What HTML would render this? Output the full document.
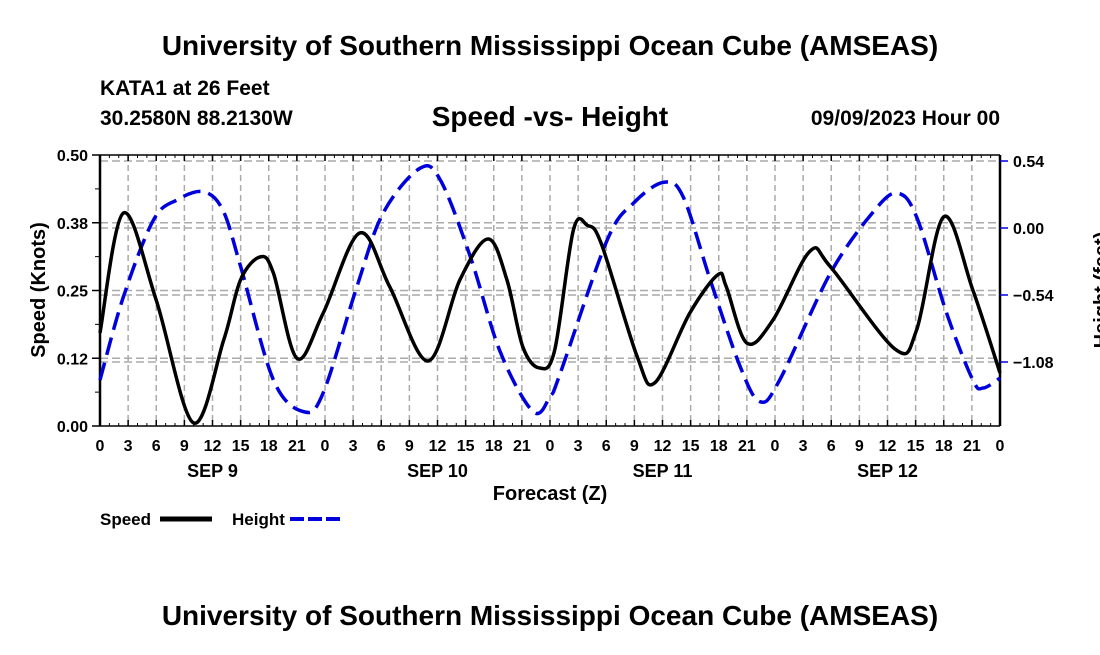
<!DOCTYPE html>
<html><head><meta charset="utf-8"><style>
body{margin:0;background:#fff;}
svg text{font-family:"Liberation Sans",sans-serif;font-weight:bold;fill:#000;}
</style></head><body>
<svg width="1100" height="650" viewBox="0 0 1100 650">
<text x="550" y="55" font-size="28" text-anchor="middle">University of Southern Mississippi Ocean Cube (AMSEAS)</text>
<text x="100" y="95" font-size="21">KATA1 at 26 Feet</text>
<text x="100" y="125" font-size="21">30.2580N  88.2130W</text>
<text x="550" y="126" font-size="28" text-anchor="middle">Speed -vs- Height</text>
<text x="1000" y="125" font-size="21" text-anchor="end">09/09/2023 Hour 00</text>
<g id="grid"></g>
<g id="axes"></g>
<g id="series"></g>
<text x="550" y="500" font-size="20" text-anchor="middle">Forecast (Z)</text>
<text transform="translate(45,290) rotate(-90)" font-size="20" text-anchor="middle">Speed (Knots)</text>
<text transform="translate(1108,290) rotate(-90)" font-size="20" text-anchor="middle">Height (feet)</text>
<g>
<text x="100" y="525" font-size="17">Speed</text>
<line x1="160" y1="519" x2="212" y2="519" stroke="#000" stroke-width="5"/>
<text x="232" y="525" font-size="17">Height</text>
<line x1="290" y1="519" x2="342" y2="519" stroke="#0000dd" stroke-width="4" stroke-dasharray="14,4"/>
</g>
<text x="550" y="625" font-size="28" text-anchor="middle">University of Southern Mississippi Ocean Cube (AMSEAS)</text>
</svg>
<script>
const speedHours=[0,2.5,6,9.95,13.2,15,17.1,18.5,21,23.8,27.7,30.9,35,38.4,41.4,43.4,45.1,46.9,48.5,50.5,52,53.5,57.3,59.2,62.9,65.9,66.8,69,71.8,75.7,77.9,84.8,87.1,90,93.1,96];
const speedValues=[0.172,0.393,0.232,0.006,0.159,0.27,0.312,0.282,0.125,0.208,0.356,0.257,0.12,0.27,0.345,0.27,0.146,0.107,0.14,0.362,0.37,0.335,0.128,0.08,0.208,0.279,0.257,0.153,0.196,0.322,0.294,0.142,0.177,0.386,0.251,0.098];
const heightHours=[0,2.5,5.7,8.2,11,13.1,15,18.5,21.7,23.8,27.4,30.2,34.1,36.3,39.5,42.7,46.2,48,49.1,54.1,56.9,60.1,62.2,65.1,68.3,70.4,72.5,77.9,82.5,85,87.1,90.3,93.1,94.2,96];
const heightValues=[-1.225,-0.554,0.064,0.226,0.293,0.145,-0.31,-1.225,-1.48,-1.33,-0.473,0.12,0.48,0.387,-0.231,-1.0,-1.48,-1.36,-1.17,-0.097,0.2,0.368,0.252,-0.42,-1.12,-1.40,-1.225,-0.365,0.131,0.28,0.09,-0.685,-1.225,-1.29,-1.21];
const leftTicks=[0,0.125,0.25,0.375,0.5];
const leftTickLabels=["0.00","0.12","0.25","0.38","0.50"];
const rightTicks=[0.54,0,-0.54,-1.08];
const rightTickLabels=["0.54","0.00","\u22120.54","\u22121.08"];
const hourLabels=["0","3","6","9","12","15","18","21"];
const dayLabels=["SEP 9","SEP 10","SEP 11","SEP 12"];
const X0=100,X1=1000,YT=155,YB=426;
const xs=h=>X0+h*(X1-X0)/96;
const yL=v=>YB-v*(YB-YT)/0.5;
const yR=v=>228-v*67/0.54;
const NS="http://www.w3.org/2000/svg";
function mk(tag,attrs,parent){const e=document.createElementNS(NS,tag);for(const k in attrs)e.setAttribute(k,attrs[k]);parent.appendChild(e);return e;}
const grid=document.getElementById('grid'),axes=document.getElementById('axes'),ser=document.getElementById('series');
for(let h=3;h<96;h+=3){const g=mk('line',{x1:xs(h),x2:xs(h),y1:YT,y2:YB,stroke:'#aaa','stroke-width':1.5,'stroke-dasharray':'6,4'},grid);

}
leftTicks.forEach(v=>{if(v>0&&v<0.5){const g=mk('line',{x1:X0,x2:X1,y1:yL(v),y2:yL(v),stroke:'#aaa','stroke-width':1.5,'stroke-dasharray':'8,4'},grid);

}});
rightTicks.forEach(v=>{const g=mk('line',{x1:X0,x2:X1,y1:yR(v),y2:yR(v),stroke:'#aaa','stroke-width':1.5,'stroke-dasharray':'8,4'},grid);

});
mk('line',{x1:X0,x2:X1,y1:YT,y2:YT,stroke:'#000','stroke-width':1.5},axes);
mk('line',{x1:X0,x2:X1,y1:YB,y2:YB,stroke:'#000','stroke-width':1.5},axes);
mk('line',{x1:X0,x2:X0,y1:YT,y2:YB,stroke:'#000','stroke-width':2.5},axes);
mk('line',{x1:X1,x2:X1,y1:YT,y2:YB,stroke:'#000','stroke-width':2.5},axes);
for(let h=0;h<=96;h+=3){const i=(h/3)%8;
mk('line',{x1:xs(h),x2:xs(h),y1:YB,y2:YB-6,stroke:'#000','stroke-width':1.5},axes);
mk('line',{x1:xs(h),x2:xs(h),y1:YT,y2:YT+6,stroke:'#000','stroke-width':1.5},axes);
const t=mk('text',{x:xs(h),y:451,'font-size':16,'text-anchor':'middle'},axes);t.textContent=hourLabels[i];

}
for(let h=1;h<96;h++){mk('line',{x1:xs(h),x2:xs(h),y1:YB,y2:YB-3,stroke:'#000','stroke-width':1},axes);mk('line',{x1:xs(h),x2:xs(h),y1:YT,y2:YT+3,stroke:'#000','stroke-width':1},axes);}
dayLabels.forEach((d,i)=>{const t=mk('text',{x:xs(12+24*i),y:477,'font-size':18,'text-anchor':'middle'},axes);t.textContent=d;

});
leftTicks.forEach((v,i)=>{mk('line',{x1:X0-8,x2:X0,y1:yL(v),y2:yL(v),stroke:'#000','stroke-width':1.5},axes);
const t=mk('text',{x:88,y:yL(v)+6,'font-size':16,'text-anchor':'end'},axes);t.textContent=leftTickLabels[i];

});
for(let k=1;k<8;k+=2){const v=k*0.0625;mk('line',{x1:X0-5,x2:X0,y1:yL(v),y2:yL(v),stroke:'#000','stroke-width':1},axes);}
rightTicks.forEach((v,i)=>{mk('line',{x1:X1,x2:X1+8,y1:yR(v),y2:yR(v),stroke:'#0000dd','stroke-width':1.5},axes);
const t=mk('text',{x:1013,y:yR(v)+6,'font-size':16},axes);t.textContent=rightTickLabels[i];

});
function path(hs,vs,fy){const p=hs.map((h,i)=>[xs(h),fy(vs[i])]);let d='M'+p[0][0]+','+p[0][1];
for(let i=0;i<p.length-1;i++){const a=p[Math.max(0,i-1)],b=p[i],c=p[i+1],e=p[Math.min(p.length-1,i+2)];
const c1=[b[0]+(c[0]-a[0])/6,b[1]+(c[1]-a[1])/6],c2=[c[0]-(e[0]-b[0])/6,c[1]-(e[1]-b[1])/6];
d+=` C${c1[0]},${c1[1]} ${c2[0]},${c2[1]} ${c[0]},${c[1]}`;}return d;}
const hp=mk('path',{d:path(heightHours,heightValues,yR),fill:'none',stroke:'#0000dd','stroke-width':3.5,'stroke-dasharray':'18,8'},ser);


const sp=mk('path',{d:path(speedHours,speedValues,yL),fill:'none',stroke:'#000','stroke-width':3.5},ser);


</script>
</body></html>
